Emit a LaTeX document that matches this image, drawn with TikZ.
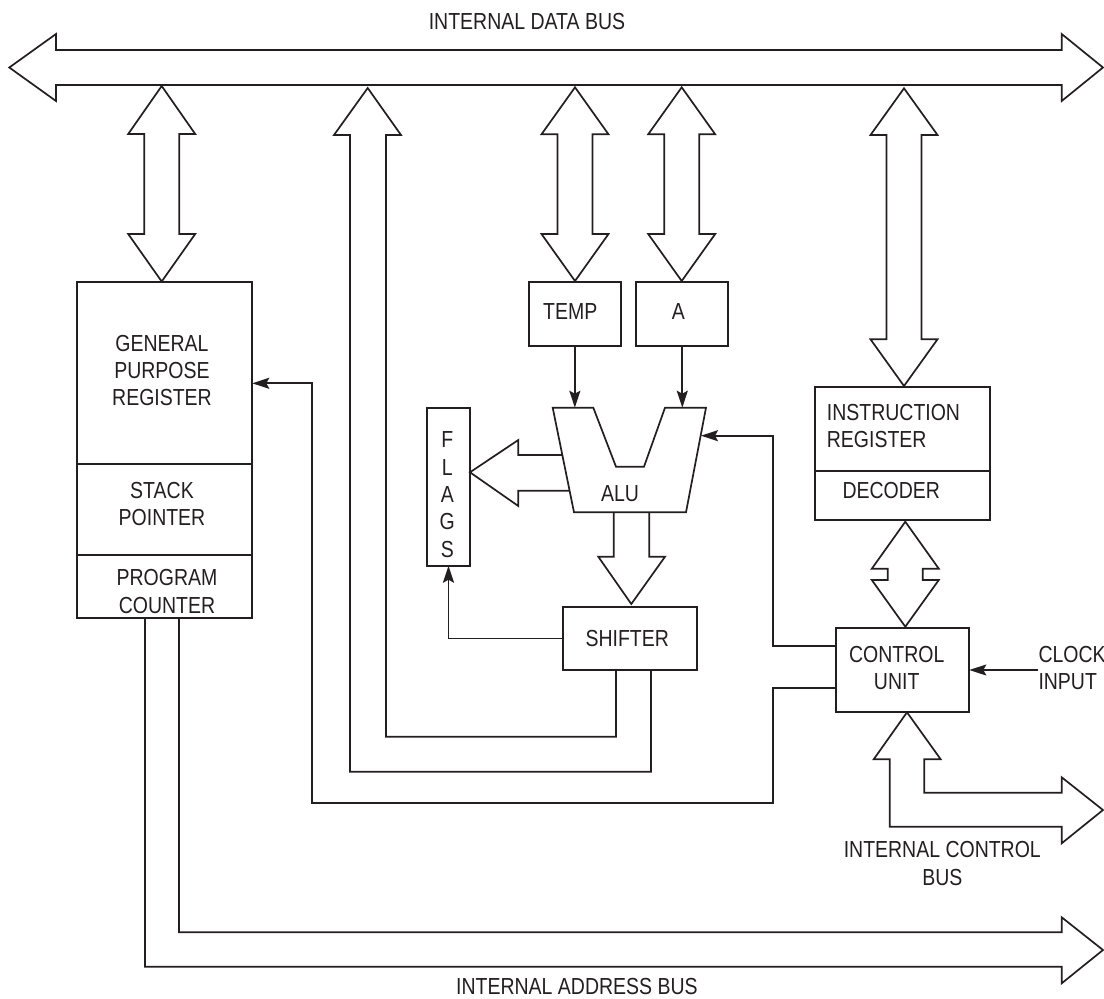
\documentclass[tikz,border=0pt]{standalone}
\usepackage{fontspec}
\setmainfont{Liberation Sans}[FakeStretch=0.84]
\usetikzlibrary{arrows.meta}
\definecolor{ink}{RGB}{35,31,32}
\tikzset{
  box/.style={draw=ink, line width=1.7pt, inner sep=0pt, outer sep=0pt},
  fat/.style={draw=ink, line width=1.7pt, line join=miter},
  wire/.style={draw=ink, line width=1.7pt},
  conn/.style={draw=ink, line width=1.7pt, -{Stealth[length=17pt,width=11pt,inset=3pt]}},
  txt/.style={inner sep=0pt, align=center, text=ink, font=\fontsize{23.2}{27.4}\selectfont},
}
\newcommand{\vdarrow}[5]{%
  \draw[fat, fill=white] (#1,#2) -- ({#1+33.5},#3) -- ({#1+17.5},#3) -- ({#1+17.5},#4) -- ({#1+33.5},#4) -- (#1,#5)
    -- ({#1-33.5},#4) -- ({#1-17.5},#4) -- ({#1-17.5},#3) -- ({#1-33.5},#3) -- cycle;}
\begin{document}
\begin{tikzpicture}[x=1pt,y=-1pt]
\useasboundingbox (0,0) rectangle (1104,999);
\fill[white] (0,0) rectangle (1104,999);

% internal data bus
\draw[fat, fill=white] (9.3,67.5) -- (56,34) -- (56,50) -- (1061.7,50) -- (1061.7,34) -- (1103,67.5)
  -- (1061.7,101) -- (1061.7,85) -- (56,85) -- (56,101) -- cycle;
\node[txt] (tdata) at (527,22) {INTERNAL DATA BUS};

% boxes
\node[box, minimum width=175pt, minimum height=181.7pt] (gpr) at (164.8,372.85) {};
\node[box, minimum width=175pt, minimum height=91.3pt] (sp) at (164.8,509.35) {};
\node[box, minimum width=175pt, minimum height=62.7pt] (pc) at (164.8,586.35) {};
\node[box, minimum width=91.7pt, minimum height=64pt] (temp) at (574.85,313.7) {};
\node[box, minimum width=92pt, minimum height=64pt] (a) at (682.3,313.7) {};
\node[box, minimum width=43.3pt, minimum height=158pt] (flags) at (448.35,486.7) {};
\node[box, minimum width=133.7pt, minimum height=63.3pt] (shifter) at (629.85,638.35) {};
\node[box, minimum width=175pt, minimum height=84pt] (ir) at (902.5,428.7) {};
\node[box, minimum width=175pt, minimum height=49pt] (dec) at (902.5,495.2) {};
\node[box, minimum width=133.3pt, minimum height=84.6pt] (cu) at (902.65,670) {};

% ALU
\coordinate (aluTL) at (552.7,407.7);
\coordinate (aluR) at (701,435.7);
\draw[fat] (aluTL) -- (593.3,407.7) -- (616,466.7) -- (644,466.7) -- (665,407.7) -- (706,407.7)
  -- (686,512.3) -- (574,512.3) -- cycle;

% fat double arrows to the data bus
\vdarrow{161.7}{86}{134}{234}{281.5}
\vdarrow{575}{87.3}{134.3}{234}{281}
\vdarrow{681.7}{87.3}{134.3}{234}{281}
\vdarrow{904}{88.3}{135}{339.3}{386}
\vdarrow{905.3}{521.7}{568.7}{580}{626.7}

% shifter output path up to data bus
\draw[fat] (shifter.south -| 651,0) -- (651,771.7) -- (350,771.7) -- (350,135) -- (334,135) -- (367.7,88)
  -- (401,135) -- (386,135) -- (386,736.7) -- (616,736.7) -- (shifter.south -| 616,0);

% ALU -> FLAGS
\draw[fat] (562.3,455) -- (518.3,455) -- (518.3,440) -- (flags.east |- 0,472.3) -- (518.3,506) -- (518.3,490.7) -- (569.6,490.7);
% ALU -> SHIFTER
\draw[fat] (613.7,512.3) -- (613.7,556.7) -- (598.3,556.7) -- (631.3,604) -- (665,556.7) -- (649.3,556.7) -- (649.3,512.3);

% internal control bus
\draw[fat, fill=white] (889.7,759.3) -- (873.7,759.3) -- (cu.south -| 907,0) -- (940.7,759.3) -- (924.3,759.3)
  -- (924.3,792.7) -- (1061.7,792.7) -- (1061.7,777.3) -- (1103,810) -- (1061.7,843.3) -- (1061.7,826.7)
  -- (889.7,826.7) -- cycle;
\node[txt] (tcb) at (942.3,863.7) {INTERNAL CONTROL\\BUS};

% internal address bus
\draw[fat] (pc.south -| 179,0) -- (179,932.3) -- (1061.7,932.3) -- (1061.7,917.3) -- (1103,950)
  -- (1061.7,983.3) -- (1061.7,966.7) -- (145,966.7) -- (pc.south -| 145,0);
\node[txt, anchor=west] (tab) at (456,986.7) {INTERNAL ADDRESS BUS};

% thin connectors
\draw[conn] (temp.south) -- (temp.south |- aluTL);
\draw[conn] (a.south) -- (a.south |- aluTL);
\draw[conn] (cu.west |- 0,645.7) -- (772.7,645.7) -- (772.7,435.7) -- (aluR);
\draw[conn] (cu.west |- 0,687.7) -- (772.7,687.7) -- (772.7,802.7) -- (311.7,802.7) -- (311.7,383.3) -- (gpr.east |- 0,383.3);
\draw[conn] (shifter.west |- 0,638.5) -- (448.5,638.5) -- (448.5,565.7);

% texts
\node[txt] (tgpr) at (162,370.5) {GENERAL\\PURPOSE\\REGISTER};
\node[txt] (tsp) at (162,504) {STACK\\POINTER};
\node[txt] (tpc) at (167,591.7) {PROGRAM\\COUNTER};
\node[txt] (ttemp) at (570.3,312) {TEMP};
\node[txt] (ta) at (678.3,312) {A};
\node[txt] (talu) at (620,493.3) {ALU};
\node[txt] (tflags) at (447.3,494.7) {F\\L\\A\\G\\S};
\node[txt] (tsh) at (627.2,638.3) {SHIFTER};
\node[txt, align=left, anchor=west] (tir) at (826.7,426.2) {INSTRUCTION\\REGISTER};
\node[txt] (tdec) at (891.3,490.7) {DECODER};
\node[txt] (tcu) at (896.7,668.3) {CONTROL\\UNIT};
\node[txt, align=left, anchor=west] (clk) at (1038.3,668.3) {CLOCK\\INPUT};
\draw[conn] (clk.west |- cu.east) -- (cu.east);
\end{tikzpicture}
\end{document}
